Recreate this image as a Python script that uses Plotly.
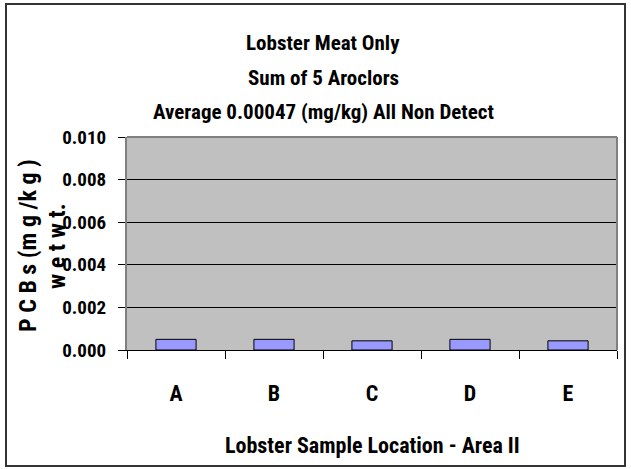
import plotly.graph_objects as go

categories = ["A", "B", "C", "D", "E"]
pcb_values = [0.0005, 0.0005, 0.00043, 0.0005, 0.00043]
title_lines = ["Lobster Meat Only", "Sum of 5 Aroclors", "Average 0.00047 (mg/kg) All Non Detect"]
y_title_lines = ["P C B s (m g /k g )", "w e t w t."]
x_title = "Lobster Sample Location - Area II"
y_ticks = [0.0, 0.002, 0.004, 0.006, 0.008, 0.010]

FONT = "Roboto Condensed, Liberation Sans Narrow, Arial Narrow, sans-serif"

fig = go.Figure()
fig.add_trace(go.Bar(
    x=categories, y=pcb_values,
    marker=dict(color="#9999FF", line=dict(color="black", width=1)),
    width=0.41,
))

# plot area pixel geometry
L, R, T, B = 127, 617, 137, 350
W, H = R - L, B - T

def px(x):
    return (x - L) / W

def py(y):
    return (B - y) / H

annotations = []
for txt, yy in zip(title_lines, [43, 78, 112]):
    annotations.append(dict(text="<b>%s</b>" % txt, x=px(323), y=py(yy), xref="paper", yref="paper",
                            showarrow=False, xanchor="center", yanchor="middle",
                            font=dict(family=FONT, size=21, color="black")))
for txt, xx in zip(y_title_lines, [28, 57]):
    annotations.append(dict(text="<b>%s</b>" % txt, x=px(xx), y=py(246), xref="paper", yref="paper",
                            showarrow=False, xanchor="center", yanchor="middle", textangle=-90,
                            font=dict(family=FONT, size=24, color="black")))
annotations.append(dict(text="<b>%s</b>" % x_title, x=px(372), y=py(445), xref="paper", yref="paper",
                        showarrow=False, xanchor="center", yanchor="middle",
                        font=dict(family=FONT, size=22, color="black")))

shapes = [
    dict(type="rect", xref="paper", yref="paper", x0=px(6), x1=px(625), y0=py(466), y1=py(4),
         line=dict(color="#333333", width=2), fillcolor="rgba(0,0,0,0)", layer="below"),
    dict(type="line", xref="paper", yref="paper", x0=0, x1=1, y0=1, y1=1,
         line=dict(color="#808080", width=2)),
    dict(type="line", xref="paper", yref="paper", x0=1, x1=1, y0=0, y1=1,
         line=dict(color="#808080", width=2)),
]

fig.update_layout(
    width=631, height=469,
    margin=dict(l=L, r=631 - R, t=T, b=469 - B, pad=0, autoexpand=False),
    paper_bgcolor="white", plot_bgcolor="#C0C0C0",
    showlegend=False,
    annotations=annotations,
    shapes=shapes,
    font=dict(family=FONT, size=20, color="black"),
)
fig.update_xaxes(
    automargin=False,
    showline=True, linecolor="black", linewidth=1,
    ticks="outside", ticklen=8, tickcolor="black", tickson="boundaries",
    tickfont=dict(family=FONT, size=22, color="black"),
    ticklabelstandoff=24,
    showgrid=False,
    tickprefix="<b>", ticksuffix="</b>",
)
fig.update_yaxes(
    automargin=False,
    range=[0, 0.010], tickvals=y_ticks,
    ticktext=["<b>%.3f</b>" % v for v in y_ticks],
    showline=True, linecolor="#808080", linewidth=2,
    ticks="outside", ticklen=7, tickcolor="black",
    tickfont=dict(family=FONT, size=19, color="black"),
    ticklabelstandoff=8,
    showgrid=True, gridcolor="black", gridwidth=1,
    zeroline=False,
)

fig.write_html("out.html", config={"displayModeBar": False},
               post_script="document.body.style.margin='0px';document.body.style.overflow='hidden';")
